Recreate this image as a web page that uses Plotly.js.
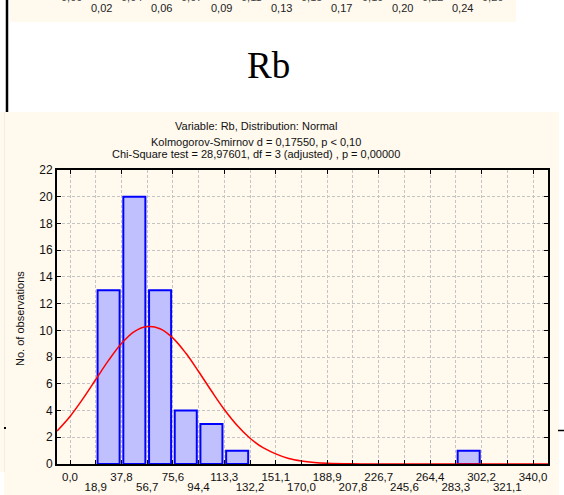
<!DOCTYPE html>
<html>
<head>
<meta charset="utf-8">
<script src="https://cdn.plot.ly/plotly-3.0.1.min.js"></script>
<style>
html,body{margin:0;padding:0;background:#ffffff;overflow:hidden;}
#chart{width:564px;height:495px;}
</style>
</head>
<body>
<div id="chart"></div>
<script>
// ---- data ----
const binCenters = [28.35, 47.25, 66.15, 85.0, 103.85, 122.75, 292.75];
const counts     = [13, 20, 13, 4, 3, 1, 1];
const tickVals   = [0.0, 18.9, 37.8, 56.7, 75.6, 94.4, 113.3, 132.2, 151.1, 170.0, 188.9, 207.8, 226.7, 245.6, 264.4, 283.3, 302.2, 321.1, 340.0];
const tickLabels = ["0,0","18,9","37,8","56,7","75,6","94,4","113,3","132,2","151,1","170,0","188,9","207,8","226,7","245,6","264,4","283,3","302,2","321,1","340,0"];
const yTicks     = [0, 2, 4, 6, 8, 10, 12, 14, 16, 18, 20, 22];
const curveX = [-9.5, 0, 9.4, 18.9, 28.3, 37.8, 47.2, 56.7, 66.1, 75.6, 85.0, 94.4, 103.9, 113.3, 122.8, 132.2, 141.7, 151.1, 160.6, 170.0, 179.4, 188.9, 207.8, 226.7, 264.4, 302.2, 351.0];
const curveY = [2.47, 3.56, 4.87, 6.32, 7.75, 9.01, 9.90, 10.28, 10.12, 9.42, 8.30, 6.92, 5.46, 4.08, 2.88, 1.93, 1.22, 0.76, 0.41, 0.22, 0.11, 0.05, 0.01, 0, 0, 0, 0];
const prevTicksVisible = ["0,02","0,06","0,09","0,13","0,17","0,20","0,24"];
const prevTicksCut     = ["0,00","0,04","0,07","0,11","0,15","0,19","0,22","0,26"];
const titleLines = [
  "Variable: Rb, Distribution: Normal",
  "Kolmogorov-Smirnov d = 0,17550, p < 0,10",
  "Chi-Square test = 28,97601, df = 3 (adjusted) , p = 0,00000"
];
const heading = "Rb";
const yTitle = "No. of observations";

// ---- layout helpers (pixel -> paper) ----
const W = 564, H = 495;
const px = x => x / W;
const py = y => 1 - y / H;
const SANS = "Liberation Sans, Arial, sans-serif";
const CREAM = "#fff9ee";

const evenVals = tickVals.filter((v, i) => i % 2 === 0);
const evenText = tickLabels.filter((v, i) => i % 2 === 0);
const oddVals  = tickVals.filter((v, i) => i % 2 === 1);
const oddText  = tickLabels.filter((v, i) => i % 2 === 1);

const traces = [
  {
    type: "bar",
    x: binCenters,
    y: counts,
    width: 16.2,
    marker: {color: "#c0c0ff", line: {color: "#0000ff", width: 2}},
    hoverinfo: "skip",
    showlegend: false
  },
  {
    type: "scatter",
    mode: "lines",
    x: curveX,
    y: curveY,
    line: {color: "#ff0000", width: 1.5, shape: "spline", smoothing: 1},
    hoverinfo: "skip",
    showlegend: false
  },
  {
    type: "scatter", mode: "lines", x: [], y: [], xaxis: "x2", yaxis: "y",
    hoverinfo: "skip", showlegend: false
  }
];

const shapes = [
  {type:"rect", xref:"paper", yref:"paper", x0:px(10), x1:px(516), y0:py(0), y1:py(22), fillcolor:CREAM, line:{width:0}, layer:"below"},
  {type:"rect", xref:"paper", yref:"paper", x0:px(0), x1:px(559), y0:py(112), y1:py(495), fillcolor:CREAM, line:{width:0}, layer:"below"},
  {type:"rect", xref:"paper", yref:"paper", x0:px(0), x1:px(4), y0:py(472), y1:py(495), fillcolor:"#ffffff", line:{width:0}, layer:"below"},
  {type:"line", xref:"paper", yref:"paper", x0:px(4.5), x1:px(4.5), y0:py(112), y1:py(472), line:{color:"#f2eee4", width:1}, layer:"below"},
  {type:"line", xref:"paper", yref:"paper", x0:px(7), x1:px(7), y0:py(0), y1:py(112), line:{color:"#000000", width:2.5}},
  {type:"rect", xref:"paper", yref:"paper", x0:px(4), x1:px(6), y0:py(427), y1:py(429), fillcolor:"#000000", line:{width:0}},
  {type:"line", xref:"paper", yref:"paper", x0:px(558), x1:px(564), y0:py(430.5), y1:py(430.5), line:{color:"#000000", width:1.5}}
];

const annotations = [];
annotations.push({xref:"paper", yref:"paper", x:px(268), y:py(66), text:heading, showarrow:false,
  xanchor:"center", yanchor:"middle", font:{family:"Liberation Serif, Times New Roman, serif", size:37, color:"#000"}});
const titleY = [126, 142, 154];
titleLines.forEach((t, i) => annotations.push({xref:"paper", yref:"paper", x:px(256), y:py(titleY[i]), text:t,
  showarrow:false, xanchor:"center", yanchor:"middle", font:{family:SANS, size:11, color:"#111"}}));
prevTicksVisible.forEach((t, i) => annotations.push({xref:"paper", yref:"paper", x:px(101 + i * 60.2), y:py(8),
  text:t, showarrow:false, xanchor:"center", yanchor:"middle", font:{family:SANS, size:11, color:"#222"}}));
prevTicksCut.forEach((t, i) => annotations.push({xref:"paper", yref:"paper", x:px(71 + i * 60.2), y:py(-3),
  text:t, showarrow:false, xanchor:"center", yanchor:"middle", font:{family:SANS, size:11, color:"#444"}}));
annotations.push({xref:"paper", yref:"paper", x:px(20), y:py(319), text:yTitle, textangle:-90, showarrow:false,
  xanchor:"center", yanchor:"middle", font:{family:SANS, size:11, color:"#111"}});

const gridCommon = {showgrid: true, gridcolor: "#c4c4c4", griddash: "3px,2px", gridwidth: 1};

const layout = {
  width: W, height: H,
  margin: {l:0, r:0, t:0, b:0, pad:0},
  paper_bgcolor: "#ffffff",
  plot_bgcolor: "#ffffff",
  bargap: 0,
  xaxis: Object.assign({
    domain: [px(57), px(548)],
    range: [-9.55, 351],
    tickmode: "array", tickvals: evenVals, ticktext: evenText, tickangle: 0,
    ticks: "inside", ticklen: 4, tickwidth: 1, tickcolor: "#000",
    showline: true, linecolor: "#000", linewidth: 2, mirror: "ticks",
    zeroline: false,
    tickfont: {family: SANS, size: 11.5, color: "#111"},
    ticklabelstandoff: 1,
    fixedrange: true
  }, gridCommon),
  xaxis2: Object.assign({
    overlaying: "x", anchor: "y", side: "bottom",
    range: [-9.55, 351],
    tickmode: "array", tickvals: oddVals, ticktext: oddText, tickangle: 0,
    ticks: "inside", ticklen: 4, tickwidth: 1, tickcolor: "#000",
    showline: false, zeroline: false,
    tickfont: {family: SANS, size: 11.5, color: "#111"},
    ticklabelstandoff: 14,
    fixedrange: true
  }, gridCommon),
  yaxis: Object.assign({
    domain: [py(464), py(170)],
    range: [0, 22],
    tickmode: "array", tickvals: yTicks,
    ticks: "inside", ticklen: 4, tickwidth: 1, tickcolor: "#000",
    showline: true, linecolor: "#000", linewidth: 2, mirror: "ticks",
    zeroline: false,
    tickfont: {family: SANS, size: 12, color: "#111"},
    fixedrange: true
  }, gridCommon),
  shapes: shapes,
  annotations: annotations,
  showlegend: false
};

Plotly.newPlot("chart", traces, layout, {staticPlot: true, displayModeBar: false});
</script>
</body>
</html>
